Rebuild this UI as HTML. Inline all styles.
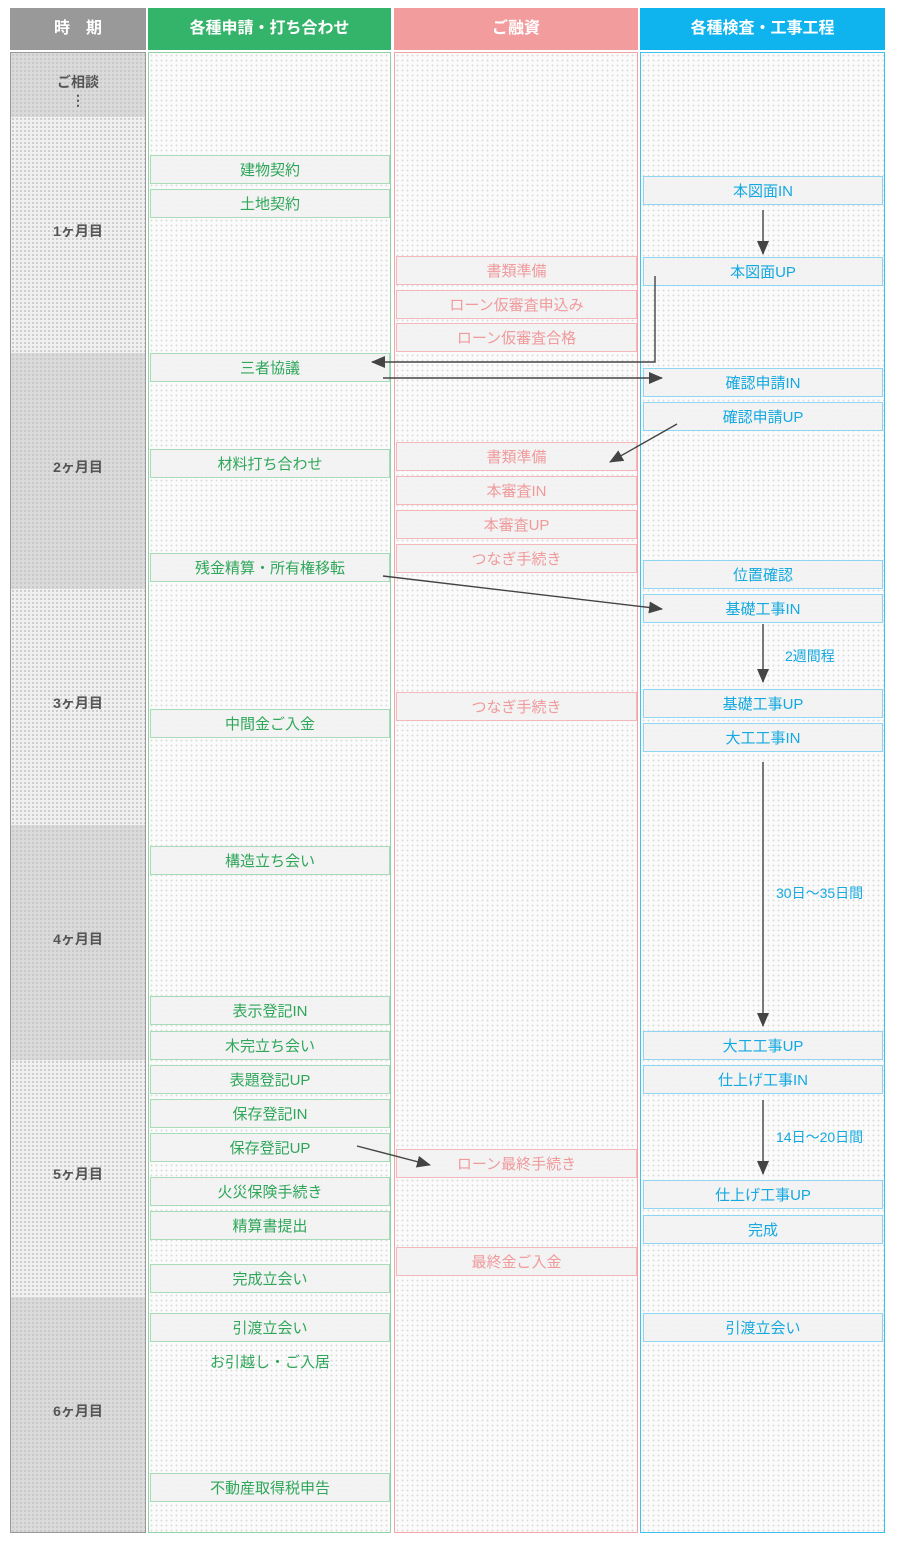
<!DOCTYPE html>
<html><head><meta charset="utf-8"><style>
body{margin:0;width:900px;height:1544px;background:#fff;position:relative;font-family:"Liberation Sans","Noto Sans CJK JP",sans-serif;overflow:hidden}
.a{position:absolute;box-sizing:border-box}
.h{color:#fff;font-weight:bold;font-size:16px;text-align:center;line-height:42px;top:8px;height:42px}
.col{top:52px;height:1481px;border:1px solid;background-color:#fbfbfb;background-image:radial-gradient(circle,#dcdcdc 0.8px,transparent 1.1px);background-size:5px 5px}
.t{left:11px;width:134px;color:#555;font-weight:bold;font-size:14px;text-align:center;background-image:radial-gradient(circle,#c4c4c4 0.8px,transparent 1.1px);background-size:4px 4px}
.dk{background-color:#dadada}.lt{background-color:#f0f0f0}
.b{height:29px;line-height:29px;text-align:center;font-size:15px;border:1px solid;background:rgba(242,242,242,.9)}
.g{left:150px;width:240px;color:#2fa75a;border-color:#a8dcb8}
.p{left:396px;width:241px;color:#f09a9c;border-color:#f5b8ba}
.u{left:643px;width:240px;color:#14a9e0;border-color:#8fd6f2}
.lab{position:absolute;font-size:14px;color:#14a9e0}
</style></head><body>
<div class="a h" style="left:10px;width:136px;background:#999">時　期</div>
<div class="a h" style="left:148px;width:243px;background:#34b36a">各種申請・打ち合わせ</div>
<div class="a h" style="left:394px;width:244px;background:#f29c9e">ご融資</div>
<div class="a h" style="left:640px;width:245px;background:#0fb4ee">各種検査・工事工程</div>

<div class="a col" style="left:10px;width:136px;border-color:#999"></div>
<div class="a t dk" style="top:53px;height:64px;padding-top:20px;line-height:18px">ご相談<br>⋮</div>
<div class="a t lt" style="top:117px;height:236px;line-height:228px">1ヶ月目</div>
<div class="a t dk" style="top:353px;height:236px;line-height:228px">2ヶ月目</div>
<div class="a t lt" style="top:589px;height:236px;line-height:228px">3ヶ月目</div>
<div class="a t dk" style="top:825px;height:235px;line-height:228px">4ヶ月目</div>
<div class="a t lt" style="top:1060px;height:237px;line-height:228px">5ヶ月目</div>
<div class="a t dk" style="top:1297px;height:235px;line-height:228px">6ヶ月目</div>

<div class="a col" style="left:148px;width:243px;border-color:#8fd3a5"></div>
<div class="a col" style="left:394px;width:244px;border-color:#f2a4a6"></div>
<div class="a col" style="left:640px;width:245px;border-color:#3cc2f0"></div>

<div class="a b g" style="top:155px">建物契約</div>
<div class="a b g" style="top:189px">土地契約</div>
<div class="a b g" style="top:353px">三者協議</div>
<div class="a b g" style="top:449px">材料打ち合わせ</div>
<div class="a b g" style="top:553px">残金精算・所有権移転</div>
<div class="a b g" style="top:709px">中間金ご入金</div>
<div class="a b g" style="top:846px">構造立ち会い</div>
<div class="a b g" style="top:996px">表示登記IN</div>
<div class="a b g" style="top:1031px">木完立ち会い</div>
<div class="a b g" style="top:1065px">表題登記UP</div>
<div class="a b g" style="top:1099px">保存登記IN</div>
<div class="a b g" style="top:1133px">保存登記UP</div>
<div class="a b g" style="top:1177px">火災保険手続き</div>
<div class="a b g" style="top:1211px">精算書提出</div>
<div class="a b g" style="top:1264px">完成立会い</div>
<div class="a b g" style="top:1313px">引渡立会い</div>
<div class="a b g" style="top:1348px;border:none;background:none">お引越し・ご入居</div>
<div class="a b g" style="top:1473px">不動産取得税申告</div>

<div class="a b p" style="top:256px">書類準備</div>
<div class="a b p" style="top:290px">ローン仮審査申込み</div>
<div class="a b p" style="top:323px">ローン仮審査合格</div>
<div class="a b p" style="top:442px">書類準備</div>
<div class="a b p" style="top:476px">本審査IN</div>
<div class="a b p" style="top:510px">本審査UP</div>
<div class="a b p" style="top:544px">つなぎ手続き</div>
<div class="a b p" style="top:692px">つなぎ手続き</div>
<div class="a b p" style="top:1149px">ローン最終手続き</div>
<div class="a b p" style="top:1247px">最終金ご入金</div>

<div class="a b u" style="top:176px">本図面IN</div>
<div class="a b u" style="top:257px">本図面UP</div>
<div class="a b u" style="top:368px">確認申請IN</div>
<div class="a b u" style="top:402px">確認申請UP</div>
<div class="a b u" style="top:560px">位置確認</div>
<div class="a b u" style="top:594px">基礎工事IN</div>
<div class="a b u" style="top:689px">基礎工事UP</div>
<div class="a b u" style="top:723px">大工工事IN</div>
<div class="a b u" style="top:1031px">大工工事UP</div>
<div class="a b u" style="top:1065px">仕上げ工事IN</div>
<div class="a b u" style="top:1180px">仕上げ工事UP</div>
<div class="a b u" style="top:1215px">完成</div>
<div class="a b u" style="top:1313px">引渡立会い</div>

<div class="lab" style="left:785px;top:646px">2週間程</div>
<div class="lab" style="left:776px;top:883px">30日～35日間</div>
<div class="lab" style="left:776px;top:1127px">14日～20日間</div>

<svg class="a" style="left:0;top:0" width="900" height="1544">
<defs><marker id="n" markerWidth="14" markerHeight="14" refX="13" refY="6" orient="auto" markerUnits="userSpaceOnUse"><path d="M0,0L14,6L0,12z" fill="#444"/></marker></defs>
<g stroke="#444" stroke-width="1.4" fill="none">
<line x1="763" y1="210" x2="763" y2="254" marker-end="url(#n)"/>
<polyline points="655,276 655,362 372,362" marker-end="url(#n)"/>
<line x1="383" y1="378" x2="662" y2="378" marker-end="url(#n)"/>
<line x1="677" y1="424" x2="610" y2="462" marker-end="url(#n)"/>
<line x1="383" y1="576" x2="662" y2="609" marker-end="url(#n)"/>
<line x1="763" y1="624" x2="763" y2="682" marker-end="url(#n)"/>
<line x1="763" y1="762" x2="763" y2="1026" marker-end="url(#n)"/>
<line x1="763" y1="1100" x2="763" y2="1174" marker-end="url(#n)"/>
<line x1="357" y1="1146" x2="430" y2="1165" marker-end="url(#n)"/>
</g></svg>
</body></html>
